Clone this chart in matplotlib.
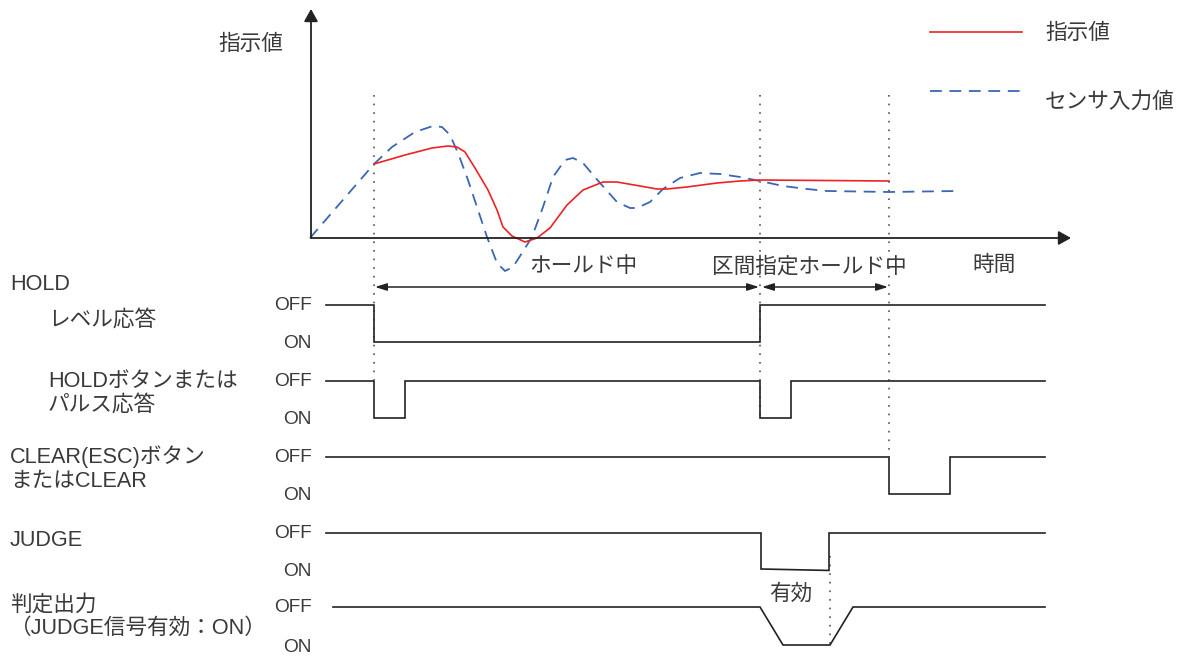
import matplotlib
matplotlib.use("Agg")
import matplotlib.pyplot as plt

plt.rcParams['font.family'] = ['Liberation Sans', 'Noto Sans CJK JP', 'DejaVu Sans']
plt.rcParams['lines.scale_dashes'] = False

# ---------------- data ----------------
# top chart: time (px-like units) and heights above the time axis
sensor_t = [310, 374, 392, 415, 433, 442, 450, 458, 468, 478, 487, 497, 505, 513, 522, 532,
            543, 553, 565, 573, 583, 600, 617, 630, 637, 650, 663, 680, 700, 720, 740, 760,
            783, 807, 827, 890, 957]
sensor_v = [0, 74, 91, 106, 112, 111, 103, 85, 58, 28, 1, -25, -33, -29, -15, 1,
            31, 61, 78, 80, 75, 55, 36, 30, 30, 36, 49, 60, 65, 64, 61, 57,
            52, 49, 47, 46, 47]
command_t = [374, 405, 432, 448, 457, 465, 475, 488, 497, 503, 512, 525, 537, 550, 567, 583,
             603, 617, 640, 657, 667, 687, 717, 740, 760, 889]
command_v = [74, 83, 90, 92, 91, 86, 70, 48, 28, 11, 2, -4, 0, 10, 33, 48,
             56, 56, 52, 49, 49, 51, 55, 57, 58, 57]

t_hold_start = 374
t_hold_end = 760
t_section_end = 889
judge_valid_t = 830

legend_labels = ['指示値', 'センサ入力値']
axis_labels = ['指示値', '時間']
hold_labels = ['ホールド中', '区間指定ホールド中']

# timing signals: 0 = OFF, 1 = ON
hold_level_t = [326, 374, 374, 760, 760, 1045]
hold_level_v = [0, 0, 1, 1, 0, 0]
hold_pulse_t = [326, 374, 374, 405, 405, 760, 760, 791, 791, 1045]
hold_pulse_v = [0, 0, 1, 1, 0, 0, 1, 1, 0, 0]
clear_t = [326, 889, 889, 950, 950, 1045]
clear_v = [0, 0, 1, 1, 0, 0]
judge_t = [326, 761, 761, 829, 829, 1045]
judge_v = [0, 0, 1, 1.04, 0, 0]
result_t = [333, 760, 783, 830, 853, 1045]
result_v = [0, 0, 1, 1, 0, 0]

signal_names = [['HOLD', 'レベル応答'], ['HOLDボタンまたは', 'パルス応答'],
                ['CLEAR(ESC)ボタン', 'またはCLEAR'], ['JUDGE'],
                ['判定出力', '（JUDGE信号有効：ON）']]
state_labels = ['OFF', 'ON']
valid_label = '有効'

# ---------------- layout ----------------
W, H = 1187, 656
fig = plt.figure(figsize=(W / 100, H / 100), dpi=100)
ax = fig.add_axes([0, 0, 1, 1])
ax.set_xlim(0, W)
ax.set_ylim(H, 0)
ax.axis('off')

TXT = '#3a3a3a'
BLK = '#222222'
FS = 15.6
y0 = 238  # time axis baseline
x0 = 311

def top(v):
    return [y0 - a for a in v]

# axes arrows
arrow_kw = dict(arrowstyle='-|>,head_length=0.75,head_width=0.42', lw=1.3, color=BLK,
                shrinkA=0, shrinkB=0, mutation_scale=10)
ax.annotate('', xy=(x0, 9), xytext=(x0, y0), arrowprops=arrow_kw)
ax.annotate('', xy=(1071, y0), xytext=(x0, y0), arrowprops=arrow_kw)
ax.text(283, 44, axis_labels[0], fontsize=FS, color=TXT, ha='right', va='center')
ax.text(972, 265, axis_labels[1], fontsize=FS, color=TXT, ha='left', va='center')

# dotted verticals
dot_kw = dict(color='#444444', lw=1.1, linestyle=(0, (1.2, 5)))
ax.plot([t_hold_start, t_hold_start], [95, 380], **dot_kw)
ax.plot([t_hold_end, t_hold_end], [95, 418], **dot_kw)
ax.plot([t_section_end, t_section_end], [95, 457], **dot_kw)
ax.plot([judge_valid_t, judge_valid_t], [556, 645], **dot_kw)

# curves
ax.plot(sensor_t, top(sensor_v), color='#3a66b5', lw=1.3, linestyle=(0, (8.5, 5.5)),
        solid_joinstyle='round', dash_joinstyle='round')
ax.plot(command_t, top(command_v), color='#ee2222', lw=1.2, solid_joinstyle='round')

# legend
ax.plot([930, 1022], [32, 32], color='#ee2222', lw=1.2)
ax.plot([930, 1022], [91, 91], color='#3a66b5', lw=1.3, linestyle=(0, (8.5, 5.5)))
ax.text(1045, 33, legend_labels[0], fontsize=FS, color=TXT, ha='left', va='center')
ax.text(1045, 102, legend_labels[1], fontsize=FS, color=TXT, ha='left', va='center')

# hold interval arrows
dbl_kw = dict(arrowstyle='<|-|>,head_length=0.7,head_width=0.22', lw=1.1, color=BLK,
              shrinkA=0, shrinkB=0, mutation_scale=10)
ax.annotate('', xy=(t_hold_start + 1, 287), xytext=(t_hold_end - 1, 287), arrowprops=dbl_kw)
ax.annotate('', xy=(t_hold_end + 2, 287), xytext=(t_section_end - 1, 287), arrowprops=dbl_kw)
ax.text(583, 267, hold_labels[0], fontsize=FS, color=TXT, ha='center', va='center')
ax.text(809, 267, hold_labels[1], fontsize=FS, color=TXT, ha='center', va='center')

# timing signals
rows_off = [305, 381, 457, 533, 607]
rows_on = [342, 418, 494, 569, 645]
signals = [(hold_level_t, hold_level_v), (hold_pulse_t, hold_pulse_v), (clear_t, clear_v),
           (judge_t, judge_v), (result_t, result_v)]
for (t, v), yo, yn in zip(signals, rows_off, rows_on):
    ys = [yo + s * (yn - yo) for s in v]
    ax.plot(t, ys, color=BLK, lw=1.2, solid_joinstyle='miter')
    ax.text(312, yo, state_labels[0], fontsize=13.7, color=TXT, ha='right', va='center')
    ax.text(311, yn + 2, state_labels[1], fontsize=13.7, color=TXT, ha='right', va='center')

# signal names
name_pos = [[(10, 284), (48, 320)], [(48, 381), (48, 405)], [(10, 457), (10, 481)],
            [(10, 541)], [(10, 605), (10, 628)]]
for names, poss in zip(signal_names, name_pos):
    for n, (x, y) in zip(names, poss):
        ax.text(x, y, n, fontsize=FS, color=TXT, ha='left', va='center')

ax.text(791, 594, valid_label, fontsize=FS, color=TXT, ha='center', va='center')

fig.savefig('out.png', dpi=100)
